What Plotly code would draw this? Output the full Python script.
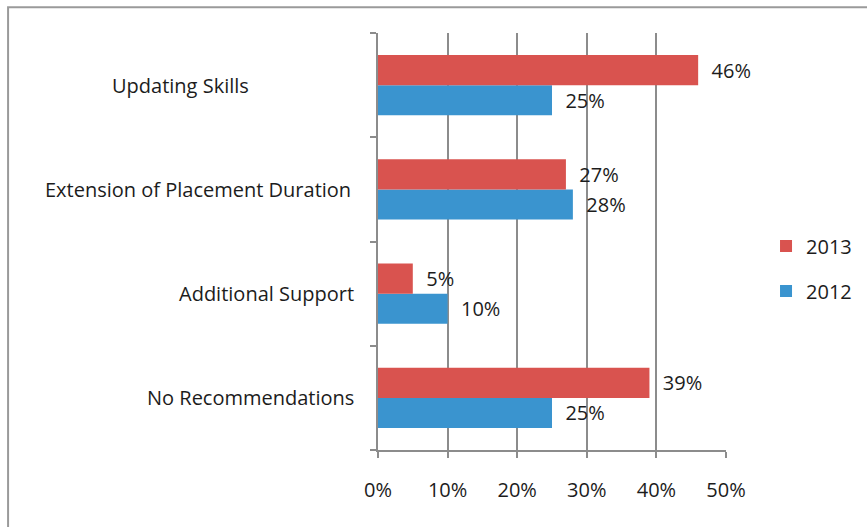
import plotly.graph_objects as go

categories = ["Updating Skills", "Extension of Placement Duration",
              "Additional Support", "No Recommendations"]
values_2013 = [46, 27, 5, 39]
values_2012 = [25, 28, 10, 25]
x_ticks = [0, 10, 20, 30, 40, 50]
x_tick_labels = ["0%", "10%", "20%", "30%", "40%", "50%"]

RED = "#d9534f"
BLUE = "#3a94cf"
FONT = "Open Sans"
TEXT = "#1c1c1c"
AXIS = "#8c8c8c"

# plot area geometry (px) used to place category labels
PLOT_LEFT, PLOT_W = 378, 348
label_right_px = {
    "Updating Skills": 251,
    "Extension of Placement Duration": 353,
    "Additional Support": 356,
    "No Recommendations": 356,
}

fig = go.Figure()

# 2012 drawn first so that it sits below 2013 inside each group
for name, vals, color, rank in [("2012", values_2012, BLUE, 2),
                                ("2013", values_2013, RED, 1)]:
    fig.add_trace(go.Bar(
        name=name,
        y=categories,
        x=vals,
        orientation="h",
        marker=dict(color=color, line=dict(width=0)),
        text=[f"\u00a0\u00a0{v}%" for v in vals],
        textposition="outside",
        textfont=dict(family=FONT, size=20, color=TEXT),
        cliponaxis=False,
        legendgroup=name,
        legendrank=rank,
    ))

# category labels
annotations = [
    dict(
        text=cat, xref="paper", yref="y",
        x=(label_right_px[cat] - PLOT_LEFT) / PLOT_W, y=cat,
        xanchor="right", yanchor="middle", showarrow=False,
        font=dict(family=FONT, size=20, color=TEXT),
    )
    for cat in categories
]

fig.update_layout(
    width=867, height=527,
    margin=dict(l=378, r=141, t=33, b=77, autoexpand=False),
    paper_bgcolor="white",
    plot_bgcolor="white",
    barmode="group",
    bargap=0.42,
    bargroupgap=0,
    font=dict(family=FONT, size=20, color=TEXT),
    legend=dict(
        x=1.115, y=0.435, xanchor="left", yanchor="middle",
        traceorder="grouped",
        tracegroupgap=16,
        font=dict(family=FONT, size=20, color=TEXT),
        bgcolor="rgba(0,0,0,0)",
    ),
    xaxis=dict(
        range=[0, 50],
        tickvals=x_ticks,
        ticktext=x_tick_labels,
        showgrid=True,
        gridcolor=AXIS,
        gridwidth=1.6,
        showline=True,
        linecolor=AXIS,
        linewidth=1.6,
        ticks="outside",
        ticklen=6,
        tickcolor=AXIS,
        tickwidth=1.6,
        ticklabelstandoff=15,
        zeroline=False,
        tickfont=dict(family=FONT, size=20, color=TEXT),
    ),
    yaxis=dict(
        categoryorder="array",
        categoryarray=categories[::-1],
        tickson="boundaries",
        ticks="outside",
        ticklen=6,
        tickcolor=AXIS,
        tickwidth=1.6,
        showline=True,
        linecolor=AXIS,
        linewidth=1.6,
        showgrid=False,
        showticklabels=False,
    ),
    annotations=annotations,
    shapes=[dict(
        type="rect", xref="paper", yref="paper",
        x0=-1.063, x1=1.5, y0=-0.3, y1=1.062,
        line=dict(color="#9a9a9a", width=2),
        fillcolor="rgba(0,0,0,0)",
        layer="below",
    )],
)

fig.write_html("out.html")
